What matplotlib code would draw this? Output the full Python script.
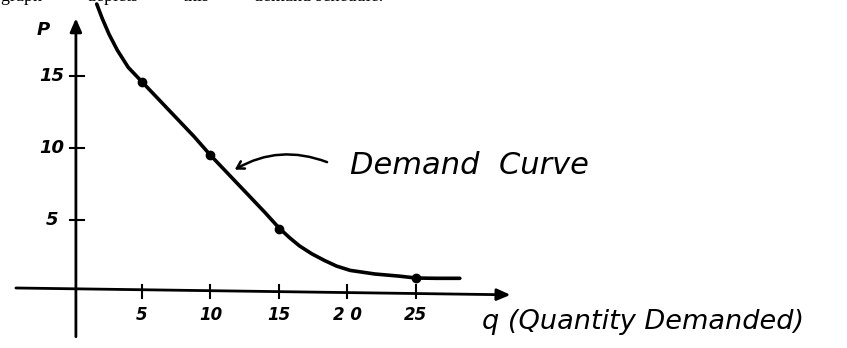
import matplotlib.pyplot as plt

# demand schedule points (quantity, price)
q_pts = [5, 10, 15, 25]
p_pts = [14.6, 9.5, 4.4, 0.95]

# hand-drawn curve traced through the schedule
q_curve = [1.7, 2.1, 2.6, 3.2, 4.0, 5, 6.2, 7.5, 8.8, 10, 11.4, 12.9, 14.0, 15,
           15.8, 16.5, 17.4, 18.3, 19.2, 20.2, 22.0, 23.8, 25, 26.5, 28.2]
p_curve = [20.0, 19.0, 17.9, 16.8, 15.6, 14.6, 13.4, 12.1, 10.8, 9.5, 8.1, 6.6, 5.5, 4.45,
           3.75, 3.2, 2.65, 2.2, 1.8, 1.5, 1.25, 1.1, 0.97, 0.95, 0.95]

x_ticks = [5, 10, 15, 20, 25]
x_labels = ["5", "10", "15", "2 0", "25"]
y_ticks = [5, 10, 15]
y_labels = ["5", "10", "15"]

fig = plt.figure(figsize=(8.47, 3.48), dpi=100)
ax = fig.add_axes([0, 0, 1, 1])
ax.set_xlim(-5.36, 56.46)
ax.set_ylim(-3.89, 20.28)
ax.axis("off")

hand = dict(family="DejaVu Sans", style="italic", color="black")

# axes drawn by hand
ax.annotate("", xy=(32.1, -0.2), xytext=(-4.4, 0.28),
            arrowprops=dict(arrowstyle="-|>,head_length=0.8,head_width=0.35",
                            lw=2, color="black"))
ax.annotate("", xy=(0.18, 19.2), xytext=(0.18, -3.3),
            arrowprops=dict(arrowstyle="-|>,head_length=0.8,head_width=0.35",
                            lw=2, color="black"))

for t, lab in zip(x_ticks, x_labels):
    ax.plot([t, t], [-0.4, 0.5], color="black", lw=1.5)
    ax.text(t, -1.6, lab, ha="center", va="center", fontsize=12,
            fontweight="bold", **hand)
for t, lab in zip(y_ticks, y_labels):
    ax.plot([-0.25, 0.8], [t, t], color="black", lw=1.5)
    ax.text(-1.55, t, lab, ha="center", va="center", fontsize=13,
            fontweight="bold", **hand)

ax.text(-2.2, 18.2, "P", ha="center", va="center", fontsize=13,
        fontweight="bold", **hand)

# demand curve and its points
ax.plot(q_curve, p_curve, color="black", lw=2.6, solid_capstyle="round",
        solid_joinstyle="round")
ax.plot(q_pts, p_pts, "o", color="black", ms=6)

ax.annotate("", xy=(11.6, 8.4), xytext=(18.7, 8.95),
            arrowprops=dict(arrowstyle="->,head_length=0.5,head_width=0.3",
                            lw=1.8, color="black",
                            connectionstyle="arc3,rad=0.25"))
ax.text(20.2, 8.8, "Demand  Curve", ha="left", va="center", fontsize=22, **hand)

ax.text(29.8, -2.1, "q (Quantity Demanded)", ha="left", va="center",
        fontsize=19.5, **hand)

# line of printed text running off the top edge
ax.text(-5.3, 20.55, "graph          depicts          this          demand schedule.",
        ha="left", va="center", fontsize=13, family="Liberation Serif",
        color="black", clip_on=True)

fig.savefig("out.png", dpi=100)
